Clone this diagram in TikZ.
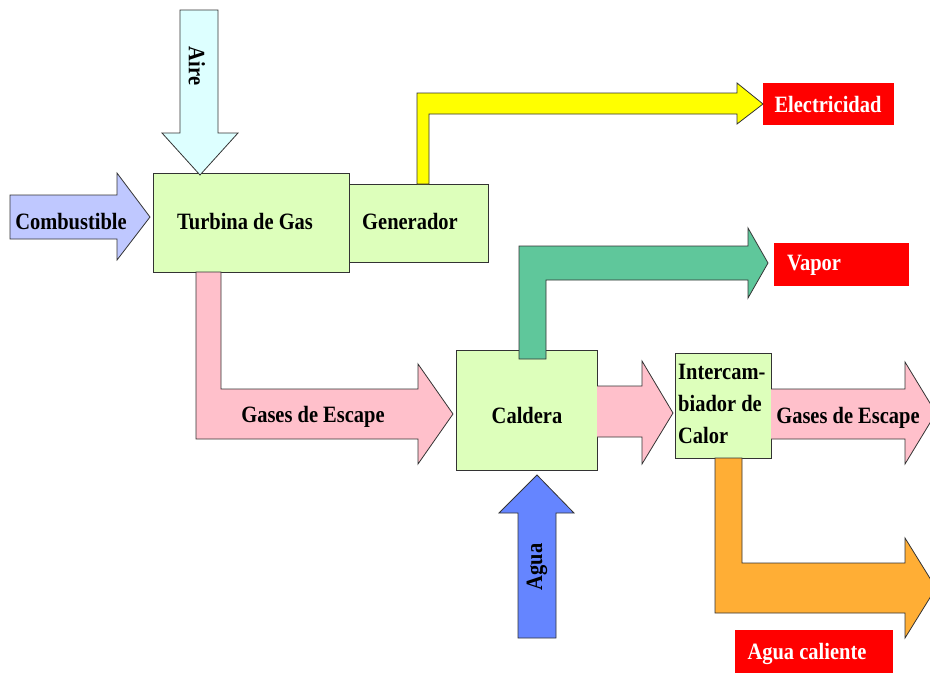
\documentclass[tikz,border=0pt]{standalone}
\usepackage{fontspec}
\setmainfont{Liberation Serif}
\newfontfamily\tallserif[FakeStretch=0.875]{Liberation Serif}
\definecolor{boxg}{HTML}{DDFFBB}
\definecolor{airc}{HTML}{DDFFFF}
\definecolor{combc}{HTML}{BFC8FF}
\definecolor{yelc}{HTML}{FFFF00}
\definecolor{vapc}{HTML}{5FC79B}
\definecolor{gasc}{HTML}{FFC0CB}
\definecolor{aguac}{HTML}{6585FF}
\definecolor{hotc}{HTML}{FFAE35}
\definecolor{redc}{HTML}{FF0000}
\definecolor{edgec}{HTML}{333333}
\tikzset{
  x=1pt, y=-1pt,
  txt/.style={font=\tallserif\bfseries\fontsize{23.4}{27}\selectfont, text=black, inner sep=0pt},
  unit/.style={draw=edgec, line width=0.9pt, fill=boxg},
  barrow/.style={draw=edgec, line width=0.8pt},
  outbox/.style={fill=redc, draw=none},
  outtxt/.style={font=\tallserif\bfseries\fontsize{23.4}{27}\selectfont, text=white, inner sep=0pt}
}
\begin{document}
\begin{tikzpicture}
\useasboundingbox (0,0) rectangle (930,673);
\begin{scope}
\clip (0,0) rectangle (930,673);
% units
\draw[unit] (153,173) rectangle (349,272);
\draw[unit] (349,184) rectangle (488,262);
\draw[unit] (456,350) rectangle (597,470);
\draw[unit] (675,353) rectangle (771,458);
\node[txt] (tg) at (245,222) {Turbina de Gas};
\node[txt] (gen) at (410,221) {Generador};
\node[txt] (cal) at (527,415) {Caldera};
\node[txt, align=left, font=\tallserif\bfseries\fontsize{23.4}{32}\selectfont, anchor=north west] (ic) at (678,364) {Intercam-\\biador de\\Calor};
% output boxes
\fill[outbox] (763,83) rectangle (894,125);
\node[outtxt] (ele) at (828,104) {Electricidad};
\fill[outbox] (774,243) rectangle (909,286);
\node[outtxt, anchor=west] (vap) at (787,265) {Vapor};
\fill[outbox] (735,630) rectangle (893,673);
\node[outtxt] (agc) at (807,654) {Agua caliente};
% Aire arrow
\draw[barrow, fill=airc] (180,10) -- (218,10) -- (218,133) -- (238,133) -- (200,175) -- (162,133) -- (180,133) -- cycle;
\node[txt, rotate=-90] (aire) at (197,66) {Aire};
% Combustible arrow
\draw[barrow, fill=combc] (10,195) -- (117,195) -- (117,173) -- (150,217) -- (117,260) -- (117,239) -- (10,239) -- cycle;
\node[txt] (comb) at (71,222) {Combustible};
% Yellow electricity arrow
\draw[barrow, fill=yelc] (417,184) -- (417,93) -- (737,93) -- (737,83) -- (763,104) -- (737,124) -- (737,114) -- (429,114) -- (429,184) -- cycle;
% Green steam arrow
\draw[barrow, fill=vapc] (519,359) -- (519,246) -- (748,246) -- (748,228) -- (768,263) -- (748,298) -- (748,280) -- (546,280) -- (546,359) -- cycle;
% Pink exhaust turbine -> caldera
\draw[barrow, fill=gasc] (196,272) -- (221,272) -- (221,389) -- (418,389) -- (418,364) -- (453,414) -- (418,464) -- (418,439) -- (196,439) -- cycle;
\node[txt] (g1) at (313,417) {Gases de Escape};
% Pink caldera -> intercambiador
\draw[barrow, fill=gasc] (597,386) -- (642,386) -- (642,361) -- (673,413) -- (642,464) -- (642,437) -- (597,437);
% Pink intercambiador -> out
\draw[barrow, fill=gasc] (771,389) -- (905,389) -- (905,362) -- (936,413) -- (905,464) -- (905,439) -- (771,439);
\node[txt] (g2) at (848,418) {Gases de Escape};
% Orange hot water arrow
\draw[barrow, fill=hotc] (715,458) -- (742,458) -- (742,563) -- (905,563) -- (905,538) -- (936,588) -- (905,638) -- (905,613) -- (715,613) -- cycle;
% Agua arrow
\draw[barrow, fill=aguac] (518,638) -- (518,513) -- (499,513) -- (537,475) -- (574,513) -- (556,513) -- (556,638) -- cycle;
\node[txt, rotate=90] (agua) at (537,567) {Agua};
\end{scope}
\end{tikzpicture}
\end{document}
